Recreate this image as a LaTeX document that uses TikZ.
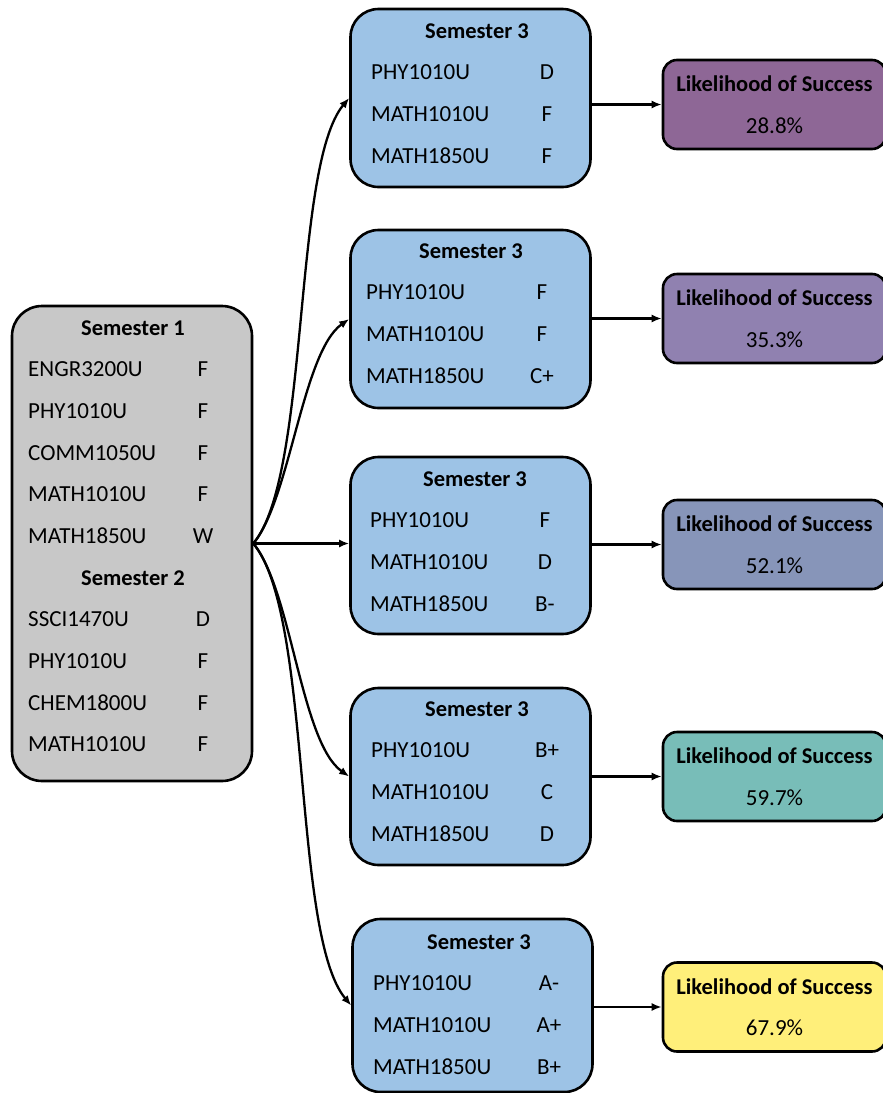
\documentclass[tikz,border=0pt]{standalone}
\usepackage{fontspec}
\setmainfont{Carlito}
\usetikzlibrary{positioning, arrows.meta, calc}

\definecolor{semgray}{HTML}{C8C8C8}
\definecolor{semblue}{HTML}{9DC3E6}
\definecolor{lkone}{HTML}{8E6796}
\definecolor{lktwo}{HTML}{9081B0}
\definecolor{lkthree}{HTML}{8795B9}
\definecolor{lkfour}{HTML}{78BDB8}
\definecolor{lkfive}{HTML}{FFEF7A}

\begin{document}
\begin{tikzpicture}[x=1pt, y=-1pt, >={Latex[length=10pt,width=8pt]}] % pixel grid
    \tikzset{
        sembox/.style={draw, line width=2.6pt, rounded corners=28pt, inner sep=0pt, minimum width=240pt},
        lkbox/.style={draw, line width=2.6pt, rounded corners=14pt, inner sep=0pt, minimum width=223pt, minimum height=89pt},
        title/.style={font=\fontsize{22.5}{26}\selectfont\bfseries},
        course/.style={anchor=west, inner sep=0pt, font=\fontsize{23}{27}\selectfont},
        grade/.style={inner sep=0pt, font=\fontsize{23}{27}\selectfont},
        link/.style={->, line width=2.3pt}
    }
    \useasboundingbox (0,0) rectangle (883,1093);

    % Semester 1 and 2
    \node[sembox, fill=semgray, rounded corners=30pt, minimum height=475pt] (sem1) at (132,543.5) {};
    \node[title] (t1) at (133,328) {Semester 1};
    \foreach \crs/\grd [count=\i] in {ENGR3200U/F, PHY1010U/F, COMM1050U/F, MATH1010U/F, MATH1850U/W}
    {
        \node[course] (c1\i) at (28,328+41.6*\i) {\crs};
        \node[grade] (g1\i) at (203,328+41.6*\i) {\grd};
    }
    \node[title] (t2) at (133,578) {Semester 2};
    \foreach \crs/\grd [count=\i] in {SSCI1470U/D, PHY1010U/F, CHEM1800U/F, MATH1010U/F}
    {
        \node[course] (c2\i) at (28,578+41.6*\i) {\crs};
        \node[grade] (g2\i) at (203,578+41.6*\i) {\grd};
    }

    % Semester 3 options
    \node[sembox, fill=semblue, minimum height=178pt] (s3a) at (470.5,98) {};
    \node[title] at (477,31) {Semester 3};
    \foreach \crs/\grd [count=\i] in {PHY1010U/D, MATH1010U/F, MATH1850U/F}
    {
        \node[course] at (371,31+41.6*\i) {\crs};
        \node[grade] at (547,31+41.6*\i) {\grd};
    }

    \node[sembox, fill=semblue, minimum height=178pt] (s3b) at (470.5,319) {};
    \node[title] at (471,251) {Semester 3};
    \foreach \crs/\grd [count=\i] in {PHY1010U/F, MATH1010U/F, MATH1850U/C+}
    {
        \node[course] at (366,251+41.6*\i) {\crs};
        \node[grade] at (542,251+41.6*\i) {\grd};
    }

    \node[sembox, fill=semblue, minimum height=177pt] (s3c) at (470.5,545.5) {};
    \node[title] at (475,479) {Semester 3};
    \foreach \crs/\grd [count=\i] in {PHY1010U/F, MATH1010U/D, MATH1850U/B-}
    {
        \node[course] at (370,479+41.6*\i) {\crs};
        \node[grade] at (545,479+41.6*\i) {\grd};
    }

    \node[sembox, fill=semblue, minimum height=177pt] (s3d) at (470.5,776.5) {};
    \node[title] at (477,709) {Semester 3};
    \foreach \crs/\grd [count=\i] in {PHY1010U/B+, MATH1010U/C, MATH1850U/D}
    {
        \node[course] at (371,709+41.6*\i) {\crs};
        \node[grade] at (547,709+41.6*\i) {\grd};
    }

    \node[sembox, fill=semblue, minimum height=173pt] (s3e) at (472.5,1005.5) {};
    \node[title] at (479,942) {Semester 3};
    \foreach \crs/\grd [count=\i] in {PHY1010U/A-, MATH1010U/A+, MATH1850U/B+}
    {
        \node[course] at (373,942+41.6*\i) {\crs};
        \node[grade] at (549,942+41.6*\i) {\grd};
    }

    % Likelihood boxes
    \node[lkbox, fill=lkone] (lka) at (774.5,104.5) {};
    \node[lkbox, fill=lktwo] (lkb) at (774.5,318.5) {};
    \node[lkbox, fill=lkthree] (lkc) at (774.5,544.5) {};
    \node[lkbox, fill=lkfour] (lkd) at (774.5,776.5) {};
    \node[lkbox, fill=lkfive] (lke) at (774.5,1007) {};
    \foreach \bx/\val in {lka/28.8\%, lkb/35.3\%, lkc/52.1\%, lkd/59.7\%, lke/67.9\%}
    {
        \node[title] at ($(\bx.north)+(0,25)$) {Likelihood of Success};
        \node[grade] at ($(\bx.north)+(0,67)$) {\val};
    }

    % Connectors
    \draw[link] (sem1.east) to[out=50, in=230, looseness=0.5] (s3a.west);
    \draw[link] (sem1.east) to[out=50, in=215, looseness=0.6] (s3b.west);
    \draw[link] (sem1.east) -- (sem1.east -| s3c.west);
    \draw[link] (sem1.east) to[out=-50, in=145, looseness=0.6] (s3d.west);
    \draw[link] (sem1.east) to[out=-50, in=130, looseness=0.5] (s3e.west);

    \draw[link] (s3a.east |- lka.west) -- (lka.west);
    \draw[link] (s3b.east |- lkb.west) -- (lkb.west);
    \draw[link] (s3c.east |- lkc.west) -- (lkc.west);
    \draw[link] (s3d.east |- lkd.west) -- (lkd.west);
    \draw[link] (s3e.east |- lke.west) -- (lke.west);
\end{tikzpicture}
\end{document}
